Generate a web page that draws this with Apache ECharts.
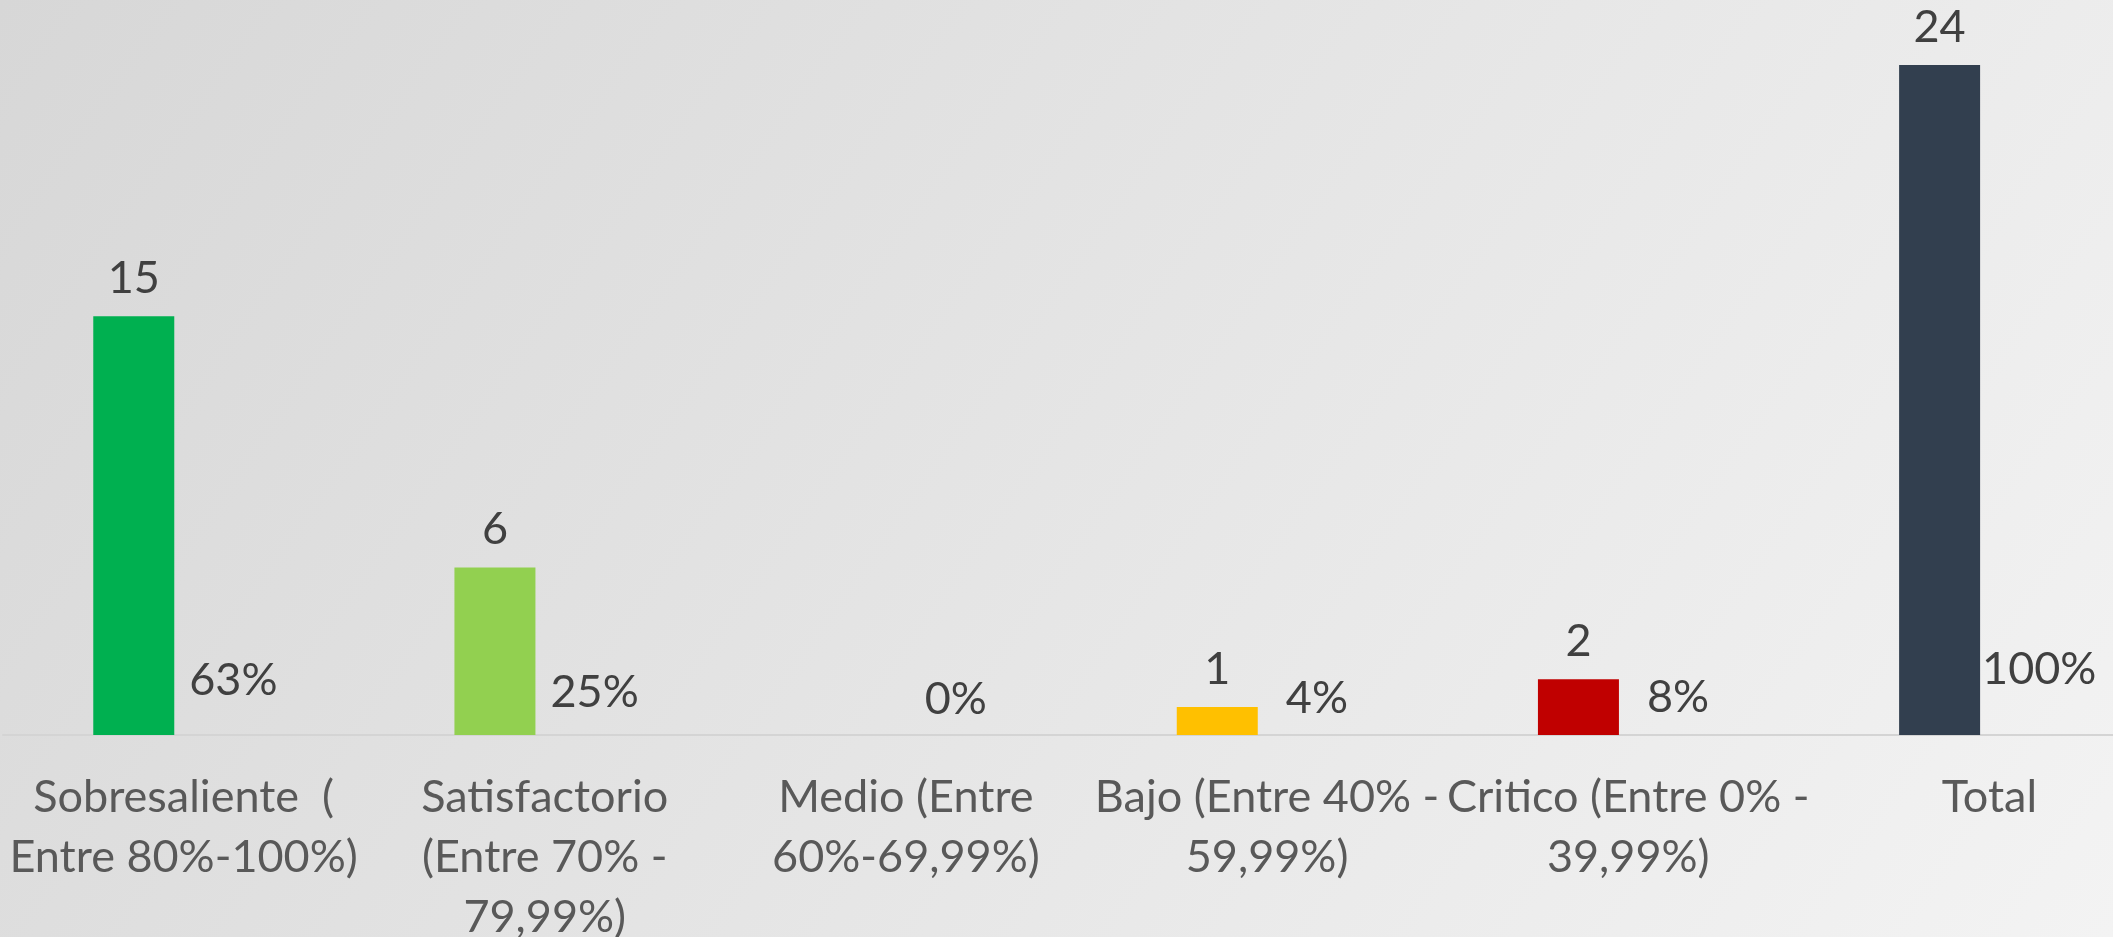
<!DOCTYPE html>
<html>
<head>
<meta charset="utf-8">
<script src="https://cdn.jsdelivr.net/npm/echarts@6/dist/echarts.min.js"></script>
<style>
html,body{margin:0;padding:0;width:2113px;height:937px;overflow:hidden;}
#c{width:2113px;height:937px;background:linear-gradient(125deg,#D7D7D7 0%,#F3F3F3 100%);}
</style>
</head>
<body>
<div id="c"></div>
<script>
const categories = [
  "Sobresaliente  (\nEntre 80%-100%)",
  "Satisfactorio\n(Entre 70% -\n79,99%)",
  "Medio (Entre\n60%-69,99%)",
  "Bajo (Entre 40% -\n59,99%)",
  "Critico (Entre 0% -\n39,99%)",
  "Total"
];
const counts = [15, 6, 0, 1, 2, 24];
const percents = [0.63, 0.25, 0, 0.04, 0.08, 1];
const barColors = ["#00B050", "#92D050", "#92D050", "#FFC000", "#C00000", "#323F4F"];

const chart = echarts.init(document.getElementById('c'), null, {renderer: 'canvas'});
const font = 'Lato';
chart.setOption({
  backgroundColor: 'transparent',
  animation: false,
  grid: {left: 3, width: 2167, top: 37, height: 698, containLabel: false, outerBoundsMode: 'none'},
  xAxis: {
    type: 'category',
    data: categories,
    axisLine: {show: true, lineStyle: {color: '#D4D4D4', width: 2}},
    axisTick: {show: false},
    axisLabel: {
      interval: 0,
      margin: 32,
      color: '#595959',
      fontFamily: font,
      fontSize: 45,
      lineHeight: 60,
      align: 'center'
    }
  },
  yAxis: [
    {type: 'value', min: 0, max: 25, show: false, splitLine: {show: false}},
    {type: 'value', min: 0, max: 23.27, show: false, splitLine: {show: false}}
  ],
  series: [
    {
      type: 'bar',
      yAxisIndex: 0,
      barWidth: 81,
      barGap: '23%',
      data: counts.map((v, i) => ({value: v, itemStyle: {color: barColors[i]}, label: {show: v !== 0}})),
      label: {
        show: true,
        position: 'top',
        distance: 15,
        color: '#404040',
        fontFamily: font,
        fontSize: 45
      }
    },
    {
      type: 'bar',
      yAxisIndex: 1,
      barWidth: 81,
      barGap: '23%',
      data: percents,
      itemStyle: {color: 'rgba(0,0,0,0)'},
      label: {
        show: true,
        position: 'top',
        distance: 13,
        color: '#404040',
        fontFamily: font,
        fontSize: 45,
        formatter: p => Math.round(p.value * 100) + '%'
      }
    }
  ]
});
</script>
</body>
</html>
